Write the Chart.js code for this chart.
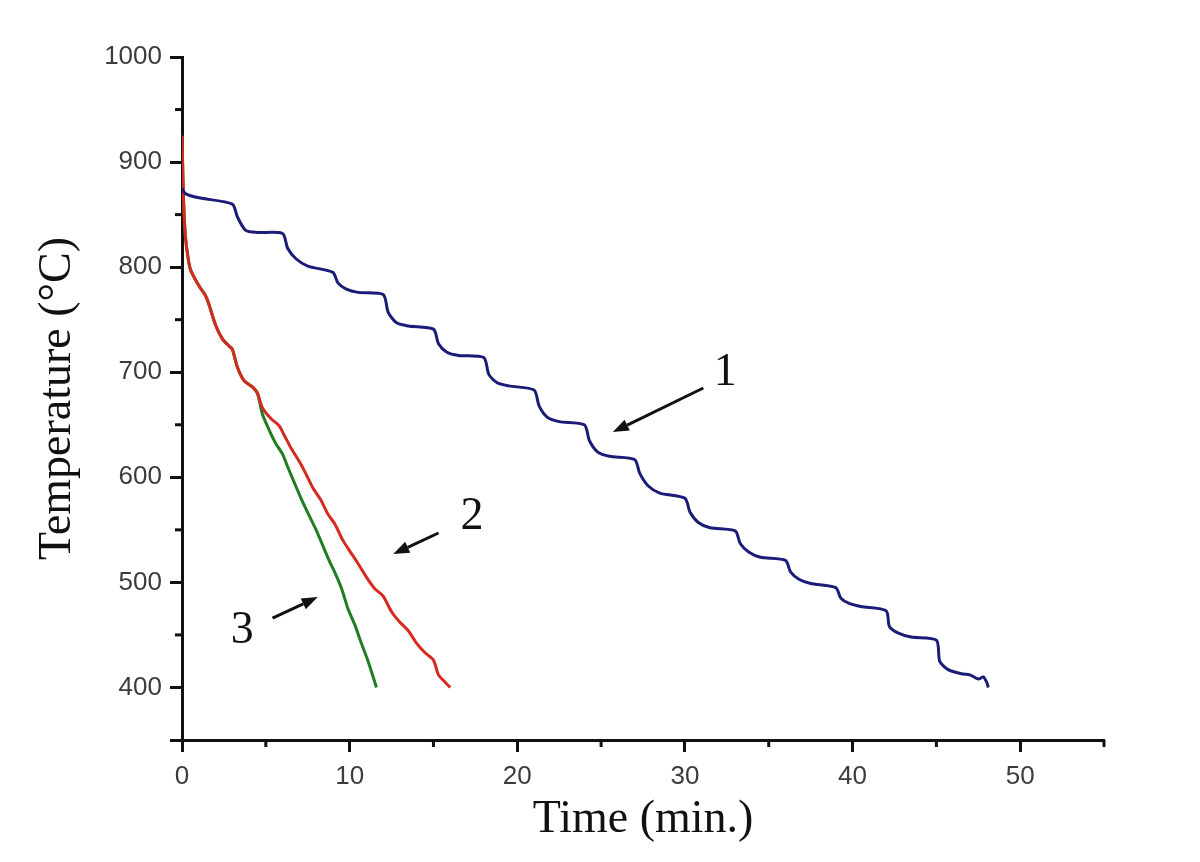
<!DOCTYPE html>
<html>
<head>
<meta charset="utf-8">
<script src="https://cdn.jsdelivr.net/npm/chart.js@4.4.1/dist/chart.umd.min.js"></script>
<style>
  html, body { margin: 0; padding: 0; background: #fff; }
</style>
</head>
<body>
<canvas id="coolingChart" width="1200" height="862"></canvas>
<script>
// curve 1 (blue) - stepped cooling
const time1 = [0, 0.2, 1, 3.0, 3.3, 3.8, 4.5, 6.0, 6.3, 6.8, 7.5, 9.0, 9.3, 9.8, 10.5, 12.0,
  12.3, 12.8, 13.5, 15.0, 15.3, 15.8, 16.5, 18.0, 18.3, 18.8, 19.5, 21.0, 21.3, 21.8, 22.5, 24.0,
  24.3, 24.8, 25.5, 27.0, 27.3, 27.8, 28.5, 30.0, 30.3, 30.8, 31.5, 33.0, 33.3, 33.8, 34.5, 36.0,
  36.3, 36.8, 37.5, 39.0, 39.3, 39.8, 40.5, 42.0, 42.2, 42.7, 43.5, 45.0, 45.2, 45.7, 46.5, 47.0, 47.5, 47.8, 48.0, 48.1];
const temp1 = [875, 870, 866, 860, 848, 835, 833, 832, 818, 808, 801, 795, 785, 779, 776, 774,
  757, 747, 744, 741, 727, 719, 716, 714, 698, 690, 687, 683, 668, 657, 653, 650,
  635, 624, 620, 617, 604, 592, 585, 580, 567, 557, 552, 549, 537, 529, 524, 521,
  510, 503, 499, 495, 485, 480, 477, 473, 458, 452, 448, 445, 425, 417, 413, 412, 408, 410, 405, 400];

// curve 2 (red)
const time2 = [0, 0.05, 0.1, 0.2, 0.35, 0.5, 0.8, 1.1, 1.4, 1.6, 2.0, 2.4, 2.8, 3.0, 3.3, 3.7, 4.2, 4.5,
  4.8, 5.3, 5.8, 6.1, 6.5, 7.0, 7.4, 7.8, 8.3, 8.7, 9.1, 9.6, 10.0, 10.5, 11.0, 11.5, 12.0, 12.5,
  13.0, 13.5, 14.0, 14.5, 15.0, 15.3, 15.7, 16.0];
const temp2 = [925, 890, 860, 830, 810, 798, 788, 780, 773, 765, 745, 732, 725, 722, 705, 692, 686, 680,
  666, 656, 649, 640, 628, 615, 603, 590, 578, 565, 556, 540, 530, 518, 505, 494, 487, 472,
  462, 454, 442, 433, 426, 412, 405, 400];

// curve 3 (green)
const time3 = [0, 0.05, 0.1, 0.2, 0.35, 0.5, 0.8, 1.1, 1.4, 1.6, 2.0, 2.4, 2.8, 3.0, 3.3, 3.7, 4.2, 4.5,
  4.8, 5.2, 5.6, 6.0, 6.3, 6.7, 7.1, 7.6, 8.0, 8.4, 8.8, 9.1, 9.5, 9.9, 10.3, 10.7, 11.1, 11.6];
const temp3 = [925, 890, 860, 830, 810, 798, 788, 780, 773, 765, 745, 732, 725, 722, 705, 692, 686, 680,
  660, 645, 632, 622, 610, 595, 580, 563, 550, 535, 520, 510, 495, 475, 460, 442, 425, 400];

// curve numbers and arrows (data units)
const curveLabels = ['1', '2', '3'];
const labelPos = [[32.4, 699], [17.3, 562], [3.6, 454]];
const arrowTail = [[31.1, 685], [15.3, 547], [5.4, 466]];
const arrowTip = [[25.7, 643], [12.6, 527], [8.1, 486]];

const toPoints = (xs, ys) => xs.map((x, i) => ({ x: x, y: ys[i] }));

// minor ticks + curve labels with arrows
const extrasPlugin = {
  id: 'extras',
  afterDraw(chart) {
    const ctx = chart.ctx;
    const xs = chart.scales.x, ys = chart.scales.y;
    ctx.save();
    ctx.strokeStyle = '#111';
    ctx.lineWidth = 3;
    // minor ticks
    for (let v = 5; v <= 55; v += 10) {
      const px = xs.getPixelForValue(v);
      ctx.beginPath(); ctx.moveTo(px, ys.bottom); ctx.lineTo(px, ys.bottom + 7); ctx.stroke();
    }
    for (let v = 450; v <= 950; v += 100) {
      const py = ys.getPixelForValue(v);
      ctx.beginPath(); ctx.moveTo(xs.left, py); ctx.lineTo(xs.left - 7, py); ctx.stroke();
    }
    // arrows
    ctx.fillStyle = '#111';
    ctx.lineWidth = 3;
    for (let i = 0; i < curveLabels.length; i++) {
      const x1 = xs.getPixelForValue(arrowTail[i][0]), y1 = ys.getPixelForValue(arrowTail[i][1]);
      const x2 = xs.getPixelForValue(arrowTip[i][0]), y2 = ys.getPixelForValue(arrowTip[i][1]);
      const a = Math.atan2(y2 - y1, x2 - x1);
      const hl = 16, hw = 6;
      const bx = x2 - hl * Math.cos(a), by = y2 - hl * Math.sin(a);
      ctx.beginPath(); ctx.moveTo(x1, y1); ctx.lineTo(bx, by); ctx.stroke();
      ctx.beginPath();
      ctx.moveTo(x2, y2);
      ctx.lineTo(bx + hw * Math.sin(a), by - hw * Math.cos(a));
      ctx.lineTo(bx - hw * Math.sin(a), by + hw * Math.cos(a));
      ctx.closePath(); ctx.fill();

      ctx.font = '46px "Liberation Serif", "Times New Roman", serif';
      ctx.textAlign = 'center';
      ctx.textBaseline = 'middle';
      ctx.fillText(curveLabels[i], xs.getPixelForValue(labelPos[i][0]), ys.getPixelForValue(labelPos[i][1]));
    }
    ctx.restore();
  }
};

const tickFont = { family: '"Liberation Sans", Arial, sans-serif', size: 26 };
const titleFont = { family: '"Liberation Serif", "Times New Roman", serif', size: 46, lineHeight: 1.2 };

new Chart(document.getElementById('coolingChart'), {
  type: 'line',
  data: {
    datasets: [
      {
        label: '1',
        data: toPoints(time1, temp1),
        borderColor: '#1b1b78',
        borderWidth: 3,
        pointRadius: 0,
        tension: 0.25
      },
      {
        label: '2',
        data: toPoints(time2, temp2),
        borderColor: '#d42a20',
        borderWidth: 3,
        pointRadius: 0,
        tension: 0.25
      },
      {
        label: '3',
        data: toPoints(time3, temp3),
        borderColor: '#1f7d22',
        borderWidth: 3,
        pointRadius: 0,
        tension: 0.25
      }
    ]
  },
  options: {
    responsive: false,
    animation: false,
    layout: { padding: { top: 57, right: 96, left: 0, bottom: 0 } },
    plugins: {
      legend: { display: false },
      tooltip: { enabled: false }
    },
    scales: {
      x: {
        type: 'linear',
        min: 0,
        max: 55,
        afterFit(scale) { scale.height = 122; },
        border: { color: '#111', width: 3 },
        grid: {
          drawOnChartArea: false,
          tickLength: 12,
          tickWidth: 3,
          tickColor: c => (c.tick && c.tick.value % 10 === 0) ? '#111' : 'rgba(0,0,0,0)'
        },
        ticks: {
          stepSize: 10,
          padding: 9,
          color: '#3c3c3c',
          font: tickFont,
          maxRotation: 0,
          callback: v => (v % 10 === 0 ? v : '')
        },
        title: {
          display: true,
          text: 'Time (min.)',
          color: '#111',
          font: titleFont,
          padding: { top: 0, bottom: 14 }
        }
      },
      y: {
        type: 'linear',
        min: 350,
        max: 1000,
        afterFit(scale) { scale.width = 182; },
        border: { color: '#111', width: 3 },
        grid: {
          drawOnChartArea: false,
          tickLength: 12,
          tickWidth: 3,
          tickColor: '#111'
        },
        ticks: {
          stepSize: 100,
          padding: 8,
          color: '#3c3c3c',
          font: tickFont,
          callback: v => (v % 100 === 0 ? v : '')
        },
        title: {
          display: true,
          text: 'Temperature (°C)',
          color: '#111',
          font: titleFont,
          padding: { top: 30, bottom: 0 }
        }
      }
    }
  },
  plugins: [extrasPlugin]
});
</script>
</body>
</html>
